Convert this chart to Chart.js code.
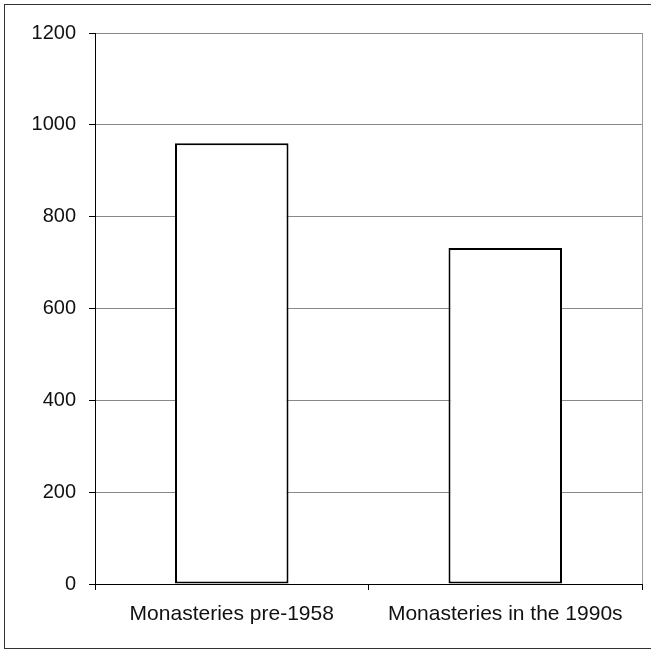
<!DOCTYPE html>
<html>
<head>
<meta charset="utf-8">
<script src="https://cdn.jsdelivr.net/npm/chart.js@4/dist/chart.umd.min.js"></script>
<style>
  html, body { margin: 0; padding: 0; background: #fff; }
  #wrap { width: 651px; height: 656px; }
</style>
</head>
<body>
<div id="wrap"><canvas id="grafica" width="651" height="656"></canvas></div>
<script>
const categorias = ['Monasteries pre-1958', 'Monasteries in the 1990s'];
const valores = [960, 732];
const yMin = 0;
const yMax = 1200;
const yPaso = 200;

const fuente = "'Liberation Sans', Arial, sans-serif";

// marco exterior y borde derecho del area de trazado
const marcos = {
  id: 'marcos',
  beforeDraw(chart) {
    const c = chart.ctx;
    c.save();
    c.fillStyle = '#fff';
    c.fillRect(0, 0, chart.width, chart.height);
    c.strokeStyle = '#333';
    c.lineWidth = 1;
    c.strokeRect(4.5, 4.5, 660, 644);
    c.restore();
  },
  afterDatasetsDraw(chart) {
    const a = chart.chartArea;
    const c = chart.ctx;
    c.save();
    c.strokeStyle = '#999';
    c.lineWidth = 1;
    c.beginPath();
    c.moveTo(Math.round(a.right) + 0.5, a.top);
    c.lineTo(Math.round(a.right) + 0.5, a.bottom);
    c.stroke();
    c.restore();
  }
};

new Chart(document.getElementById('grafica').getContext('2d'), {
  type: 'bar',
  data: {
    labels: categorias,
    datasets: [{
      data: valores,
      backgroundColor: '#fff',
      borderColor: '#000',
      borderWidth: 2,
      borderSkipped: false,
      barPercentage: 0.415,
      categoryPercentage: 1
    }]
  },
  options: {
    responsive: false,
    animation: false,
    layout: { padding: { top: 33, right: 9, bottom: 0, left: 0 } },
    plugins: {
      legend: { display: false },
      tooltip: { enabled: false }
    },
    scales: {
      x: {
        afterFit: s => { s.height = 72; },
        grid: {
          offset: true,
          drawOnChartArea: false,
          tickLength: 6,
          tickColor: '#000'
        },
        border: { color: '#000', width: 1 },
        ticks: {
          color: '#111',
          padding: 12,
          font: { family: fuente, size: 21 }
        }
      },
      y: {
        min: yMin,
        max: yMax,
        afterFit: s => { s.width = 95; },
        grid: {
          color: '#888',
          tickLength: 6,
          tickColor: '#000'
        },
        border: { color: '#000', width: 1 },
        ticks: {
          stepSize: yPaso,
          color: '#111',
          padding: 13,
          font: { family: fuente, size: 20 },
          callback: v => String(v)
        }
      }
    }
  },
  plugins: [marcos]
});
</script>
</body>
</html>
